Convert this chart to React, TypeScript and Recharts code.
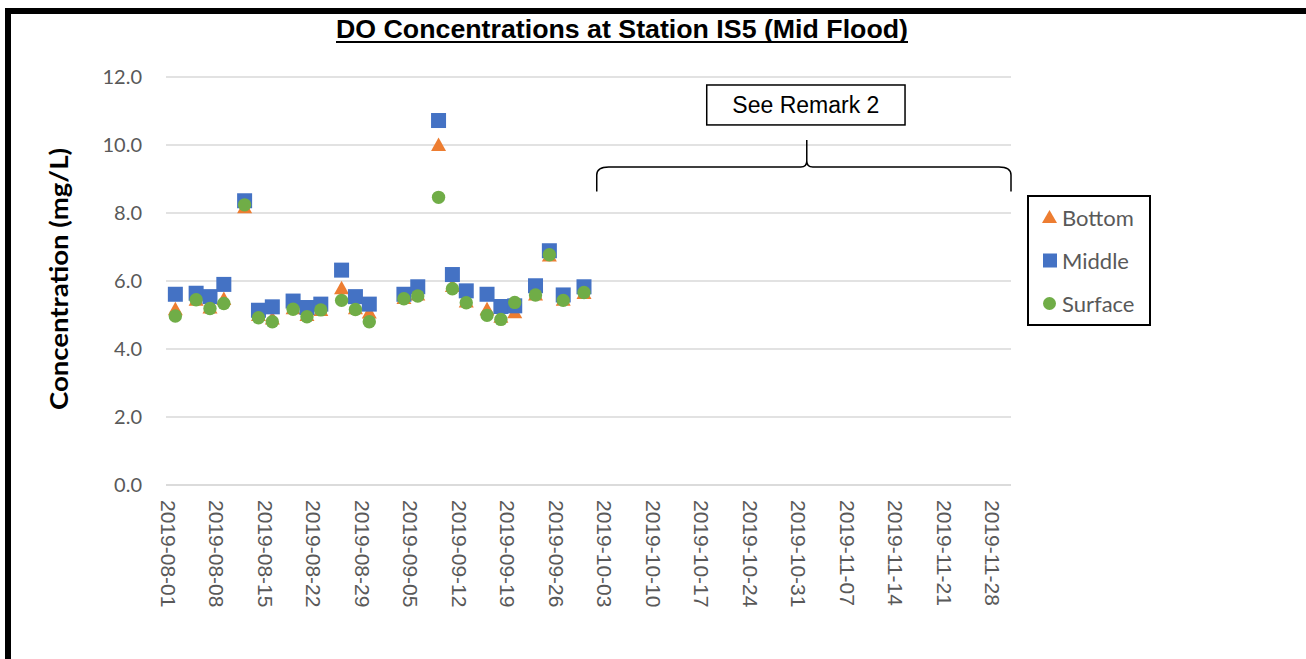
import { ScatterChart, Scatter, XAxis, YAxis, CartesianGrid, ReferenceArea } from 'recharts';

// sampling dates (mid flood) and DO readings, mg/L
const sampleDates = [
  '2019-08-02', '2019-08-05', '2019-08-07', '2019-08-09', '2019-08-12',
  '2019-08-14', '2019-08-16', '2019-08-19', '2019-08-21', '2019-08-23',
  '2019-08-26', '2019-08-28', '2019-08-30', '2019-09-04', '2019-09-06',
  '2019-09-09', '2019-09-11', '2019-09-13', '2019-09-16', '2019-09-18',
  '2019-09-20', '2019-09-23', '2019-09-25', '2019-09-27', '2019-09-30',
];
const bottomValues = [
  5.17, 5.45, 5.22, 5.47, 8.17, 5.0, 4.9, 5.2, 5.0, 5.15,
  5.79, 5.2, 5.07, 5.5, 5.6, 10.0, 5.85, 5.4, 5.17, 4.95,
  5.08, 5.6, 6.75, 5.45, 5.65,
];
const middleValues = [
  5.61, 5.64, 5.54, 5.9, 8.36, 5.14, 5.24, 5.41, 5.22, 5.32,
  6.32, 5.54, 5.32, 5.61, 5.83, 10.72, 6.19, 5.71, 5.61, 5.25,
  5.27, 5.86, 6.89, 5.59, 5.83,
];
const surfaceValues = [
  4.97, 5.45, 5.19, 5.34, 8.24, 4.92, 4.8, 5.17, 4.95, 5.15,
  5.43, 5.16, 4.8, 5.48, 5.56, 8.46, 5.77, 5.36, 4.99, 4.87,
  5.37, 5.59, 6.77, 5.43, 5.66,
];
const xTickDates = [
  '2019-08-01', '2019-08-08', '2019-08-15', '2019-08-22', '2019-08-29',
  '2019-09-05', '2019-09-12', '2019-09-19', '2019-09-26', '2019-10-03',
  '2019-10-10', '2019-10-17', '2019-10-24', '2019-10-31', '2019-11-07',
  '2019-11-14', '2019-11-21', '2019-11-28',
];
const yTicks = [0, 2, 4, 6, 8, 10, 12];
const axisStart = '2019-08-01';

const dayOf = (d: string) => (Date.parse(d) - Date.parse(axisStart)) / 86400000;
const dateOf = (day: number) => new Date(Date.parse(axisStart) + day * 86400000).toISOString().slice(0, 10);

const toPoints = (vals: number[]) => sampleDates.map((d, i) => ({ day: dayOf(d), value: vals[i] }));
const bottomData = toPoints(bottomValues);
const middleData = toPoints(middleValues);
const surfaceData = toPoints(surfaceValues);

const ORANGE = '#ED7D31';
const BLUE = '#4472C4';
const GREEN = '#70AD47';
const GREY = '#595959';

const TriangleMark = (p: any) => (
  <polygon points={`${p.cx},${p.cy - 7.5} ${p.cx - 7.5},${p.cy + 6} ${p.cx + 7.5},${p.cy + 6}`} fill={ORANGE} />
);
const SquareMark = (p: any) => <rect x={p.cx - 7.5} y={p.cy - 7.5} width={15} height={15} fill={BLUE} />;
const CircleMark = (p: any) => <circle cx={p.cx} cy={p.cy} r={6.7} fill={GREEN} />;

const XTick = ({ x, y, payload }: any) => (
  <text x={x} y={y} transform={`rotate(90, ${x}, ${y})`} textAnchor="start" dy="0.36em"
    fill={GREY} fontSize={21} fontFamily="'Liberation Sans', Arial, sans-serif">
    {dateOf(payload.value)}
  </text>
);

const YTick = ({ x, y, payload }: any) => (
  <text x={x} y={y} textAnchor="end" dy="0.36em" fill={GREY} fontSize={20} fontFamily="Lato, sans-serif">
    {payload.value.toFixed(1)}
  </text>
);

const RemarkBox = ({ x, y, width, height }: any) => (
  <g>
    <rect x={x} y={y} width={width} height={height} fill="#fff" stroke="#000" strokeWidth={1.5} />
    <text x={x + width / 2} y={y + height / 2} dy="0.36em" textAnchor="middle" fontSize={23}
      fontFamily="'Liberation Sans', Arial, sans-serif" fill="#000">
      See Remark 2
    </text>
  </g>
);

const Brace = ({ x, y, width, height }: any) => {
  const yh = y + 27;
  const mid = x + width * 0.507;
  const r = 12;
  const d = [
    `M${x},${y + height}`,
    `L${x},${yh + 8}`,
    `Q${x},${yh} ${x + r},${yh}`,
    `L${mid - 6},${yh}`,
    `Q${mid},${yh} ${mid},${yh - 6}`,
    `L${mid},${y}`,
    `M${mid},${yh - 6}`,
    `Q${mid},${yh} ${mid + 6},${yh}`,
    `L${x + width - r},${yh}`,
    `Q${x + width},${yh} ${x + width},${yh + 8}`,
    `L${x + width},${y + height}`,
  ].join(' ');
  return <path d={d} fill="none" stroke="#000" strokeWidth={1.5} />;
};

const legendItems = [
  { name: 'Bottom', mark: <polygon points="7.5,0 0,13 15,13" fill={ORANGE} /> },
  { name: 'Middle', mark: <rect x={1} y={0.5} width={14} height={14} fill={BLUE} /> },
  { name: 'Surface', mark: <circle cx={7.5} cy={7.5} r={6.5} fill={GREEN} /> },
];

export default function App() {
  return (
    <div style={{ position: 'absolute', left: 0, top: 0, width: 1306, height: 659, background: '#fff' }}>
      <div style={{
        position: 'absolute', left: 5, top: 8, width: 1310, height: 660,
        borderLeft: '6.5px solid #000', borderTop: '6.5px solid #000', boxSizing: 'border-box',
      }} />
      <ScatterChart width={1306} height={659} margin={{ top: 77, right: 295, bottom: 34, left: 106 }}>
        <CartesianGrid vertical={false} stroke="#d9d9d9" strokeWidth={1.3} />
        <XAxis type="number" dataKey="day" domain={[-0.35, 121.65]} ticks={xTickDates.map(dayOf)}
          interval={0} allowDataOverflow height={140} tickSize={0} tickMargin={15}
          axisLine={{ stroke: '#d9d9d9', strokeWidth: 1.3 }} tickLine={false} tick={XTick} />
        <YAxis type="number" dataKey="value" domain={[0, 12]} ticks={yTicks} interval={0} width={60}
          tickSize={0} tickMargin={24} axisLine={false} tickLine={false} tick={YTick} />
        <ReferenceArea x1={77.72} x2={106.35} y1={10.59} y2={11.765} shape={RemarkBox} ifOverflow="visible" />
        <ReferenceArea x1={61.84} x2={121.65} y1={8.63} y2={10.15} shape={Brace} ifOverflow="visible" />
        <Scatter name="Bottom" data={bottomData} shape={TriangleMark} isAnimationActive={false} />
        <Scatter name="Middle" data={middleData} shape={SquareMark} isAnimationActive={false} />
        <Scatter name="Surface" data={surfaceData} shape={CircleMark} isAnimationActive={false} />
      </ScatterChart>
      <svg width={1306} height={659} style={{ position: 'absolute', left: 0, top: 0, pointerEvents: 'none' }}>
        <text x={622} y={38} textAnchor="middle" fontSize={26} fontWeight="bold" textLength={572}
          lengthAdjust="spacingAndGlyphs" fontFamily="'Liberation Sans Narrow', 'Liberation Sans', Arial, sans-serif">
          DO Concentrations at Station IS5 (Mid Flood)
        </text>
        <line x1={336} x2={908} y1={42} y2={42} stroke="#000" strokeWidth={2} />
        <text x={68} y={279} transform="rotate(-90, 68, 279)" textAnchor="middle" fontSize={24} fontWeight="bold"
          textLength={262} lengthAdjust="spacingAndGlyphs" fontFamily="Lato, sans-serif" fill="#000">
          Concentration (mg/L)
        </text>
      </svg>
      <div style={{
        position: 'absolute', left: 1027, top: 195, width: 124, height: 131,
        border: '2px solid #000', boxSizing: 'border-box', background: '#fff',
      }}>
        {legendItems.map((it, i) => (
          <div key={it.name} style={{
            position: 'absolute', left: 13, top: 7 + i * 43, height: 26, display: 'flex', alignItems: 'center',
            fontFamily: 'Lato, sans-serif', fontSize: 22, color: GREY, whiteSpace: 'nowrap',
          }}>
            <svg width={16} height={15} style={{ marginRight: 4 }}>{it.mark}</svg>
            {it.name}
          </div>
        ))}
      </div>
    </div>
  );
}
